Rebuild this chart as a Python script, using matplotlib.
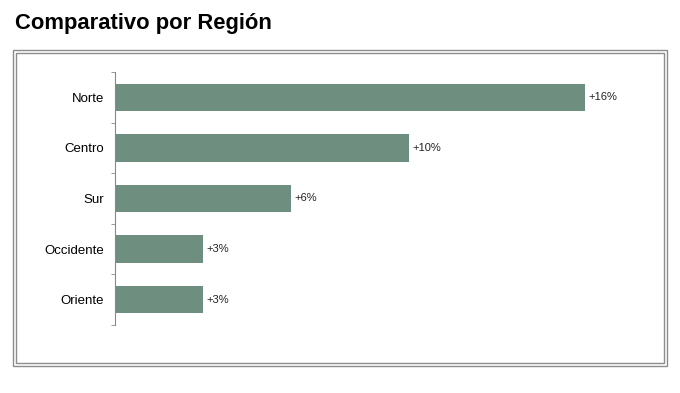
import matplotlib.pyplot as plt
from matplotlib.patches import Rectangle

regions = ["Norte", "Centro", "Sur", "Occidente", "Oriente"]
growth = [16, 10, 6, 3, 3]
labels = ["+16%", "+10%", "+6%", "+3%", "+3%"]

plt.rcParams['font.family'] = ['Liberation Sans', 'DejaVu Sans']

W, H = 680, 393
fig = plt.figure(figsize=(6.8, 3.93), dpi=100)

# outer double frame
for x0, y0, x1, y1 in [(13, 50, 667, 366), (16, 53, 664, 363)]:
    fig.patches.append(Rectangle((x0 / W, 1 - y1 / H), (x1 - x0) / W, (y1 - y0) / H,
                                 transform=fig.transFigure, fill=False,
                                 edgecolor="#8c8c8c", linewidth=1.0))

fig.text(15 / W, 1 - 23 / H, "Comparativo por Región", fontsize=15.8,
         fontweight="bold", va="center", ha="left")

ax = fig.add_axes([115 / W, 1 - 325 / H, 529 / W, 253 / H])
y = list(range(len(regions)))
ax.barh(y, growth, height=0.54, color="#6e8e7f")
ax.set_ylim(len(regions) - 0.5, -0.5)
ax.set_xlim(0, 18)

for yi, v, lab in zip(y, growth, labels):
    ax.text(v + 0.12, yi, lab, va="center", ha="left", fontsize=8, color="#222222")

ax.set_yticks(y)
ax.set_yticklabels(regions, fontsize=9.5)
ax.set_yticks([i - 0.5 for i in range(len(regions) + 1)], minor=True)
ax.tick_params(axis="y", which="major", length=0, pad=8)
ax.tick_params(axis="y", which="minor", length=3, color="#888888")
ax.set_xticks([])
for s in ["top", "right", "bottom"]:
    ax.spines[s].set_visible(False)
ax.spines["left"].set_color("#888888")

fig.savefig("out.png", dpi=100)
